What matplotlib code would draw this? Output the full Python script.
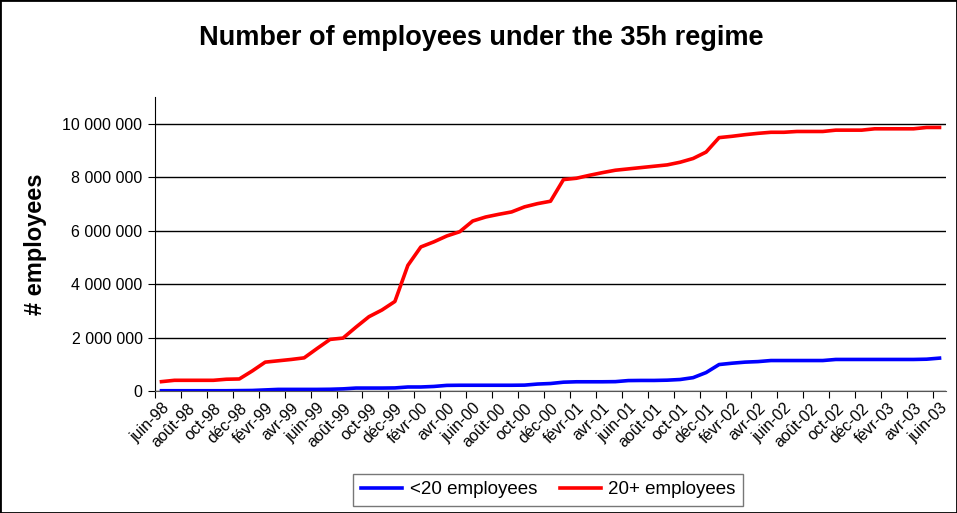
import numpy as np
import matplotlib
matplotlib.use('Agg')
import matplotlib.pyplot as plt
from matplotlib.ticker import FuncFormatter
from matplotlib.patches import Rectangle

plt.rcParams['font.family'] = ['Liberation Sans', 'DejaVu Sans']

# monthly data, juin-98 .. juin-03
small_firms = [10e3, 10e3, 10e3, 10e3, 10e3, 10e3, 15e3, 20e3, 40e3, 60e3,
               60e3, 60e3, 60e3, 65e3, 80e3, 110e3, 110e3, 110e3, 115e3, 150e3,
               150e3, 170e3, 210e3, 215e3, 215e3, 215e3, 215e3, 215e3, 220e3, 260e3,
               280e3, 330e3, 345e3, 345e3, 345e3, 350e3, 390e3, 395e3, 395e3, 405e3,
               430e3, 500e3, 690e3, 990e3, 1.04e6, 1.08e6, 1.10e6, 1.14e6, 1.14e6, 1.14e6,
               1.14e6, 1.14e6, 1.18e6, 1.18e6, 1.18e6, 1.18e6, 1.18e6, 1.18e6, 1.18e6, 1.19e6,
               1.23e6]
large_firms = [350e3, 400e3, 400e3, 400e3, 400e3, 440e3, 450e3, 750e3, 1.08e6, 1.13e6,
               1.18e6, 1.24e6, 1.59e6, 1.93e6, 1.98e6, 2.39e6, 2.78e6, 3.03e6, 3.35e6, 4.70e6,
               5.39e6, 5.58e6, 5.80e6, 5.96e6, 6.36e6, 6.51e6, 6.61e6, 6.70e6, 6.89e6, 7.01e6,
               7.10e6, 7.91e6, 7.96e6, 8.07e6, 8.17e6, 8.26e6, 8.31e6, 8.36e6, 8.41e6, 8.46e6,
               8.56e6, 8.70e6, 8.94e6, 9.48e6, 9.53e6, 9.59e6, 9.64e6, 9.68e6, 9.68e6, 9.71e6,
               9.71e6, 9.71e6, 9.76e6, 9.76e6, 9.76e6, 9.81e6, 9.81e6, 9.81e6, 9.81e6, 9.86e6,
               9.86e6]
month_labels = ['juin-98', 'août-98', 'oct-98', 'déc-98', 'févr-99', 'avr-99',
                'juin-99', 'août-99', 'oct-99', 'déc-99', 'févr-00', 'avr-00',
                'juin-00', 'août-00', 'oct-00', 'déc-00', 'févr-01', 'avr-01',
                'juin-01', 'août-01', 'oct-01', 'déc-01', 'févr-02', 'avr-02',
                'juin-02', 'août-02', 'oct-02', 'déc-02', 'févr-03', 'avr-03',
                'juin-03']

x = np.arange(len(large_firms))

fig = plt.figure(figsize=(9.57, 5.13), dpi=100)
ax = fig.add_axes([155 / 957, 122 / 513, 791 / 957, 294 / 513])

ax.plot(x, small_firms, color='#0000ff', lw=2.6, label='<20 employees')
ax.plot(x, large_firms, color='#ff0000', lw=2.6, label='20+ employees')

ax.set_xlim(-0.5, len(x) - 0.5)
ax.set_ylim(0, 11e6)
ax.set_yticks(np.arange(0, 10.5e6, 2e6))
ax.yaxis.set_major_formatter(FuncFormatter(lambda v, p: '{:,.0f}'.format(v).replace(',', ' ')))
ax.grid(axis='y', color='black', lw=1)
ax.set_axisbelow(True)

# tick marks between categories, labels under every second month
ax.set_xticks(np.arange(-0.5, len(x) - 1, 2))
ax.set_xticklabels([])
ax.set_xticks(np.arange(0, len(x), 2), minor=True)
ax.set_xticklabels(month_labels, minor=True, rotation=45, ha='right',
                   rotation_mode='anchor', fontsize=11.5)
ax.tick_params(axis='x', which='major', length=5, color='black')
ax.tick_params(axis='x', which='minor', length=0, pad=7)
ax.tick_params(axis='y', length=5, labelsize=11.5, pad=4)

for s in ['top', 'right']:
    ax.spines[s].set_visible(False)
ax.spines['left'].set_color('black')
ax.spines['bottom'].set_color('#555555')

ax.set_ylabel('# employees', fontsize=17, fontweight='bold', labelpad=11)
fig.text(0.503, 0.925, 'Number of employees under the 35h regime',
         ha='center', va='center', fontsize=19.5, fontweight='bold')

fig.legend(loc='center', bbox_to_anchor=(0.573, 0.045), ncol=2, fontsize=13.5,
           frameon=True, fancybox=False, edgecolor='#555555', handlelength=2.2,
           handletextpad=0.4, columnspacing=1.2, borderpad=0.4)

fig.add_artist(Rectangle((0, 0), 1, 1, transform=fig.transFigure, fill=False,
                         edgecolor='black', lw=2))

fig.savefig('out.png', dpi=100)
